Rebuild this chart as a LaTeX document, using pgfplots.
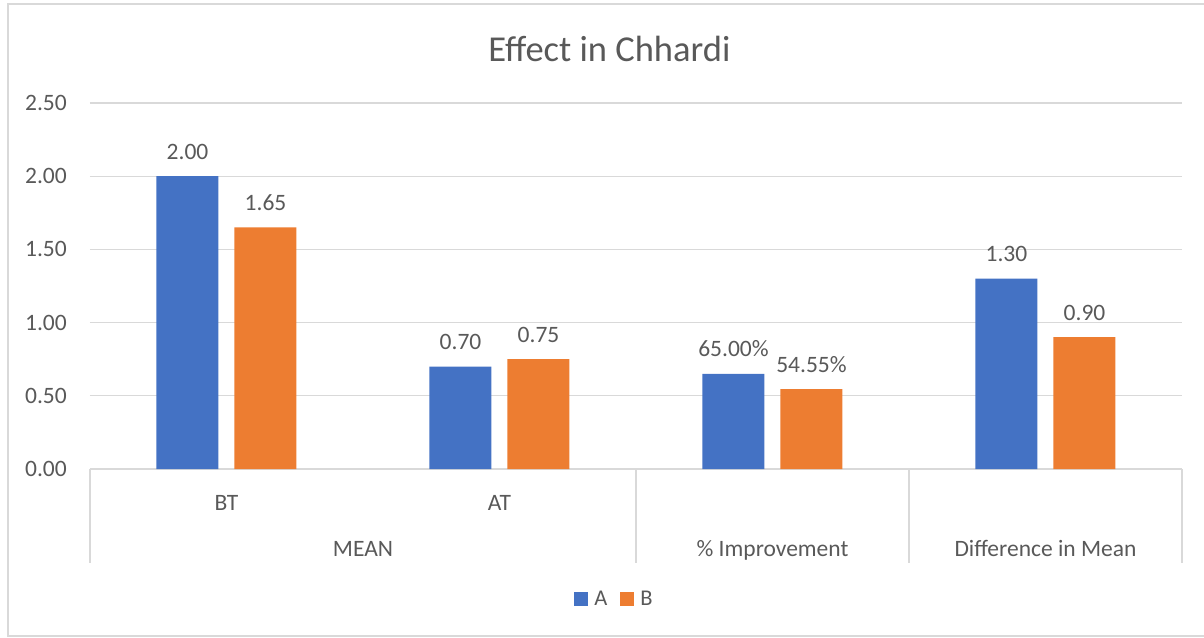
\documentclass[border=0pt]{standalone}
\usepackage{pgfplots}
\pgfplotsset{compat=1.18}
\usepackage{fontspec}
\setmainfont{Carlito}
\definecolor{txt}{HTML}{595959}
\definecolor{grd}{HTML}{D9D9D9}
\definecolor{cA}{HTML}{4472C4}
\definecolor{cB}{HTML}{ED7D31}
\newcommand{\lblfont}{\fontsize{23.5}{28}\selectfont}
\begin{document}
\begin{tikzpicture}
\useasboundingbox (-90pt,-168pt) rectangle (1114pt,469pt);
\draw[grd, line width=1.4pt] (1120pt,465pt) -- (-82pt,465pt) -- (-82pt,-167pt) -- (1120pt,-167pt);
\begin{axis}[
  at={(0pt,0pt)}, anchor=south west,
  scale only axis, width=1092pt, height=366pt,
  xmin=-0.5, xmax=3.5, ymin=0, ymax=2.5,
  ybar=16pt, bar width=62pt,
  xtick=\empty,
  ytick={0,0.5,1,1.5,2,2.5},
  yticklabel style={/pgf/number format/.cd, fixed, fixed zerofill, precision=2, assume math mode=true, /tikz/.cd,
     font=\lblfont, text=txt, inner sep=0pt, xshift=-23pt},
  ymajorgrids, grid style={grd, line width=1.3pt},
  axis line style={draw=none},
  major tick length=0pt,
  clip=false,
  nodes near coords, point meta=explicit symbolic,
  every node near coord/.append style={anchor=south, inner sep=0pt, yshift=16.5pt, font=\lblfont, text=txt},
  legend columns=2,
  legend style={draw=none, fill=none, at={(0.4794,-0.3552)}, anchor=center,
     font=\fontsize{22.5}{27}\selectfont, text=txt,
     nodes={inner sep=0pt},
     column sep=6pt,
     /tikz/every even column/.append style={column sep=13pt}},
]
\addplot[fill=cA, draw=none, legend image code/.code={\fill[cA] (0pt,-7pt) rectangle (14pt,7pt);}]
  coordinates {(0,2.00) [2.00] (1,0.70) [0.70] (2,0.65) [65.00\%] (3,1.30) [1.30]};
\addlegendentry{A}
\addplot[fill=cB, draw=none, legend image code/.code={\fill[cB] (0pt,-7pt) rectangle (14pt,7pt);}]
  coordinates {(0,1.65) [1.65] (1,0.75) [0.75] (2,0.5455) [54.55\%] (3,0.90) [0.90]};
\addlegendentry{B}
\end{axis}
\foreach \xx in {0,546,819,1092} {\draw[grd, line width=1.3pt] (\xx pt,0pt) -- (\xx pt,-94pt);}
\node[anchor=base, inner sep=0pt, text=txt, font=\lblfont] at (136.5pt,-41pt) {BT};
\node[anchor=base, inner sep=0pt, text=txt, font=\lblfont] at (409.5pt,-41pt) {AT};
\node[anchor=base, inner sep=0pt, text=txt, font=\lblfont] at (273pt,-87pt) {MEAN};
\node[anchor=base, inner sep=0pt, text=txt, font=\lblfont] at (682.5pt,-87pt) {\% Improvement};
\node[anchor=base, inner sep=0pt, text=txt, font=\lblfont] at (955.5pt,-87pt) {Difference in Mean};
\node[anchor=base, inner sep=0pt, text=txt, font=\fontsize{36.5}{44}\selectfont] at (519.5pt,407pt) {Effect in Chhardi};
\end{tikzpicture}
\end{document}
